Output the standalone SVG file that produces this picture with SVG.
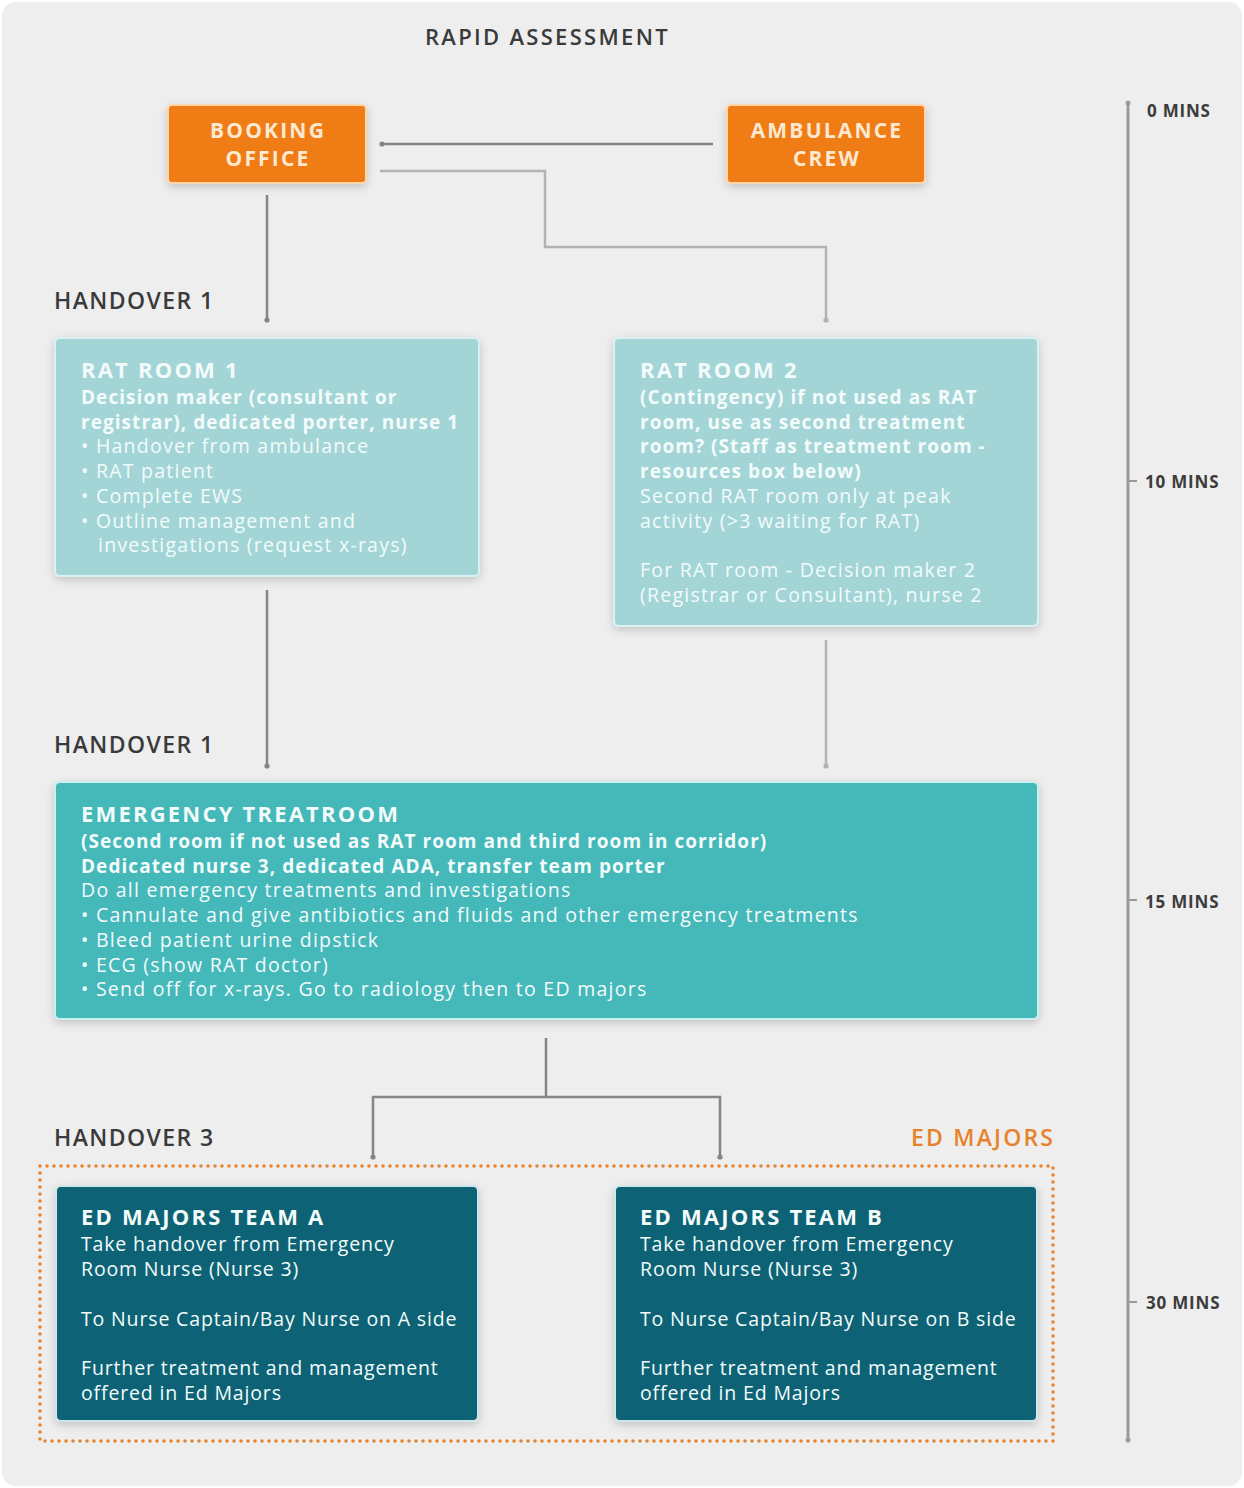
<svg xmlns="http://www.w3.org/2000/svg" width="1244" height="1488" viewBox="0 0 1244 1488">
<defs>
<filter id="sh" x="-10%" y="-10%" width="120%" height="130%">
<feDropShadow dx="0" dy="3" stdDeviation="4" flood-color="#000" flood-opacity="0.18"/>
</filter>
<marker id="dot" viewBox="0 0 6 6" refX="3" refY="3" markerWidth="6" markerHeight="6" markerUnits="userSpaceOnUse">
<circle cx="3" cy="3" r="2.6" fill="context-stroke"/>
</marker>
</defs>
<style>
text{font-family:"Open Sans","Noto Sans","Liberation Sans",sans-serif}
.hd{font-size:23px;font-weight:600;fill:#3a3a3a;letter-spacing:1.4px}
.tm{font-size:17px;font-weight:700;fill:#3c3c3c;letter-spacing:0.8px}
.ob{fill:#f07b12;stroke:#ffd6ab;stroke-width:2}
.ot{font-size:21px;font-weight:700;fill:#fde9d2;text-anchor:middle;letter-spacing:2.2px}
.lt{fill:#a3d5d7;stroke:#d9f1f1;stroke-width:2}
.md{fill:#44b8ba;stroke:#c9efef;stroke-width:2}
.dk{fill:#0c6474;stroke:#cfe7ea;stroke-width:2}
.tt{font-size:22px;font-weight:700;fill:#f3fbfb;letter-spacing:2.2px}
.b{font-size:19px;font-weight:700;fill:#f3fbfb;letter-spacing:1.05px}
.r{font-size:19.5px;font-weight:400;fill:#f3fbfb;letter-spacing:1.25px}
.rt{font-size:19.5px;font-weight:400;fill:#f3fbfb;letter-spacing:0.85px}
.c1{fill:none;stroke:#858585;stroke-width:2.5;marker-end:url(#dot)}
.c2{fill:none;stroke:#b2b2b2;stroke-width:2.5;marker-end:url(#dot)}
</style>
<rect x="0" y="0" width="1244" height="1488" fill="#ffffff"/>
<rect x="2" y="2" width="1240" height="1484" rx="14" fill="#eeeeee"/>

<text x="425" y="45" class="hd" style="font-size:22px;letter-spacing:2.3px">RAPID ASSESSMENT</text>

<g id="timeline">
<line x1="1128" y1="103" x2="1128" y2="1440" stroke="#9a9a9a" stroke-width="3"/>
<circle cx="1128" cy="103" r="2.5" fill="#9a9a9a"/>
<circle cx="1128" cy="1440" r="2.5" fill="#9a9a9a"/>
<line x1="1128" y1="481" x2="1137" y2="481" stroke="#9a9a9a" stroke-width="2"/>
<line x1="1128" y1="900" x2="1137" y2="900" stroke="#9a9a9a" stroke-width="2"/>
<line x1="1128" y1="1302" x2="1137" y2="1302" stroke="#9a9a9a" stroke-width="2"/>
<text x="1147" y="117" class="tm">0 MINS</text>
<text x="1145" y="488" class="tm">10 MINS</text>
<text x="1145" y="908" class="tm">15 MINS</text>
<text x="1146" y="1309" class="tm">30 MINS</text>
</g>

<g id="labels">
<text x="54" y="309" class="hd">HANDOVER 1</text>
<text x="54" y="753" class="hd">HANDOVER 1</text>
<text x="54" y="1146" class="hd">HANDOVER 3</text>
<text x="911" y="1146" class="hd" style="fill:#e8822a;letter-spacing:2.2px">ED MAJORS</text>
</g>

<g id="connectors">
<path class="c1" d="M713 144 H382"/>
<path class="c2" d="M380 171 H545 V247 H826 V320"/>
<path class="c1" d="M267 195 V320"/>
<path class="c1" d="M267 590 V766"/>
<path class="c2" d="M826 640 V766"/>
<path fill="none" stroke="#858585" stroke-width="2.5" d="M546 1038 V1097"/>
<path class="c1" d="M546 1097 H373 V1157"/>
<path class="c1" d="M546 1097 H720 V1157"/>
</g>

<g id="booking-office">
<rect x="168" y="105" width="198" height="78" rx="4" class="ob" filter="url(#sh)"/>
<text x="268" y="138" class="ot">BOOKING</text>
<text x="268" y="166" class="ot">OFFICE</text>
</g>

<g id="ambulance-crew">
<rect x="727" y="105" width="198" height="78" rx="4" class="ob" filter="url(#sh)"/>
<text x="827" y="138" class="ot">AMBULANCE</text>
<text x="827" y="166" class="ot">CREW</text>
</g>

<g id="rat-room-1">
<rect x="55" y="338" width="424" height="238" rx="5" class="lt" filter="url(#sh)"/>
<text x="81" y="378" class="tt">RAT ROOM 1</text>
<text x="81" y="404" class="b">Decision maker (consultant or</text>
<text x="81" y="428.7" class="b">registrar), dedicated porter, nurse 1</text>
<text x="81" y="453.4" class="r">• Handover from ambulance</text>
<text x="81" y="478.1" class="r">• RAT patient</text>
<text x="81" y="502.8" class="r">• Complete EWS</text>
<text x="81" y="527.5" class="r">• Outline management and</text>
<text x="98" y="552.2" class="r">investigations (request x-rays)</text>
</g>

<g id="rat-room-2">
<rect x="614" y="338" width="424" height="288" rx="5" class="lt" filter="url(#sh)"/>
<text x="640" y="378" class="tt">RAT ROOM 2</text>
<text x="640" y="404" class="b">(Contingency) if not used as RAT</text>
<text x="640" y="428.7" class="b">room, use as second treatment</text>
<text x="640" y="453.4" class="b">room? (Staff as treatment room -</text>
<text x="640" y="478.1" class="b">resources box below)</text>
<text x="640" y="502.8" class="r">Second RAT room only at peak</text>
<text x="640" y="527.5" class="r">activity (&gt;3 waiting for RAT)</text>
<text x="640" y="577" class="r">For RAT room - Decision maker 2</text>
<text x="640" y="601.7" class="r">(Registrar or Consultant), nurse 2</text>
</g>

<g id="emergency-treatroom">
<rect x="55" y="782" width="983" height="237" rx="5" class="md" filter="url(#sh)"/>
<text x="81" y="822" class="tt">EMERGENCY TREATROOM</text>
<text x="81" y="848" class="b">(Second room if not used as RAT room and third room in corridor)</text>
<text x="81" y="872.7" class="b">Dedicated nurse 3, dedicated ADA, transfer team porter</text>
<text x="81" y="897.4" class="r">Do all emergency treatments and investigations</text>
<text x="81" y="922.1" class="r">• Cannulate and give antibiotics and fluids and other emergency treatments</text>
<text x="81" y="946.8" class="r">• Bleed patient urine dipstick</text>
<text x="81" y="971.5" class="r">• ECG (show RAT doctor)</text>
<text x="81" y="996.2" class="r">• Send off for x-rays. Go to radiology then to ED majors</text>
</g>

<g id="ed-majors">
<rect x="40" y="1166" width="1013" height="275" fill="none" stroke="#e8822a" stroke-width="3.5" stroke-linecap="round" stroke-dasharray="0 7"/>
</g>

<g id="team-a">
<rect x="56" y="1186" width="422" height="235" rx="5" class="dk" filter="url(#sh)"/>
<text x="81" y="1225" class="tt">ED MAJORS TEAM A</text>
<text x="81" y="1251" class="rt">Take handover from Emergency</text>
<text x="81" y="1275.7" class="rt">Room Nurse (Nurse 3)</text>
<text x="81" y="1326" class="rt">To Nurse Captain/Bay Nurse on A side</text>
<text x="81" y="1375" class="rt">Further treatment and management</text>
<text x="81" y="1399.7" class="rt">offered in Ed Majors</text>
</g>

<g id="team-b">
<rect x="615" y="1186" width="422" height="235" rx="5" class="dk" filter="url(#sh)"/>
<text x="640" y="1225" class="tt">ED MAJORS TEAM B</text>
<text x="640" y="1251" class="rt">Take handover from Emergency</text>
<text x="640" y="1275.7" class="rt">Room Nurse (Nurse 3)</text>
<text x="640" y="1326" class="rt">To Nurse Captain/Bay Nurse on B side</text>
<text x="640" y="1375" class="rt">Further treatment and management</text>
<text x="640" y="1399.7" class="rt">offered in Ed Majors</text>
</g>
</svg>
